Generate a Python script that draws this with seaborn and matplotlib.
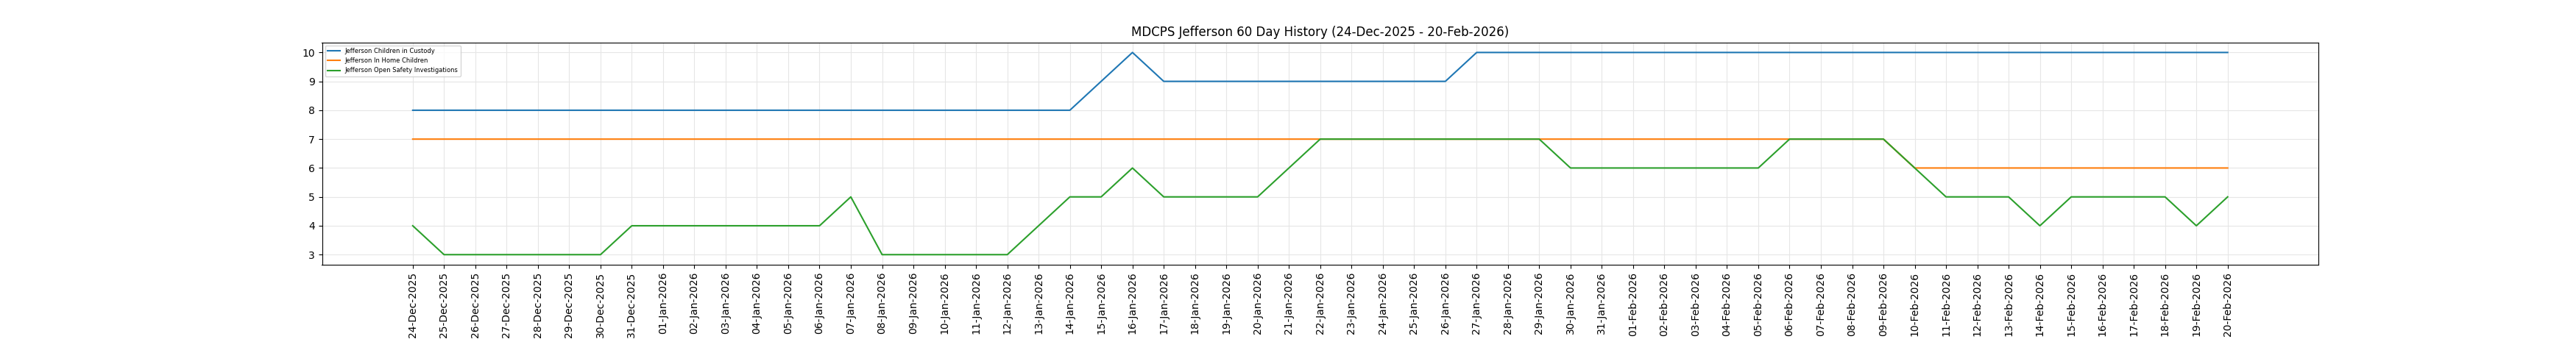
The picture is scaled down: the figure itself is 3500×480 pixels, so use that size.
import matplotlib
matplotlib.use("Agg")
import matplotlib.pyplot as plt
import seaborn as sns
import pandas as pd

dates = (
    [f"{d:02d}-Dec-2025" for d in range(24, 32)]
    + [f"{d:02d}-Jan-2026" for d in range(1, 32)]
    + [f"{d:02d}-Feb-2026" for d in range(1, 21)]
)

custody = [8] * 22 + [9, 10] + [9] * 10 + [10] * 25
in_home = [7] * 48 + [6] * 11
investigations = (
    [4, 3, 3, 3, 3, 3, 3, 4, 4, 4, 4, 4, 4, 4, 5, 3, 3, 3, 3, 3,
     4, 5, 5, 6, 5, 5, 5, 5, 6, 7, 7, 7, 7, 7, 7, 7, 7, 6, 6, 6,
     6, 6, 6, 6, 7, 7, 7, 7, 6, 5, 5, 5, 4, 5, 5, 5, 5, 4, 5]
)

series_names = [
    "Jefferson Children in Custody",
    "Jefferson In Home Children",
    "Jefferson Open Safety Investigations",
]
colors = ["#1f77b4", "#ff7f0e", "#2ca02c"]

frames = []
for name, vals in zip(series_names, [custody, in_home, investigations]):
    frames.append(pd.DataFrame({"date": dates, "value": vals, "series": name}))
df = pd.concat(frames, ignore_index=True)

fig, ax = plt.subplots(figsize=(35, 4.8), dpi=100)
fig.subplots_adjust(left=0.125, right=0.9, top=0.88, bottom=0.25)

sns.lineplot(data=df, x="date", y="value", hue="series", palette=colors,
             ax=ax, sort=False, linewidth=1.5)

ax.set_xticks(range(len(dates)))
ax.set_xticklabels(dates, rotation=90)
ax.set_xlabel("")
ax.set_ylabel("")
ax.set_title("MDCPS Jefferson 60 Day History (24-Dec-2025 - 20-Feb-2026)")
ax.grid(True, color="#e6e6e6", linewidth=0.8)
ax.set_axisbelow(True)
ax.margins(x=0.05, y=0.05)
ax.legend(loc="upper left", fontsize=6)

fig.savefig("out.png", dpi=100)
